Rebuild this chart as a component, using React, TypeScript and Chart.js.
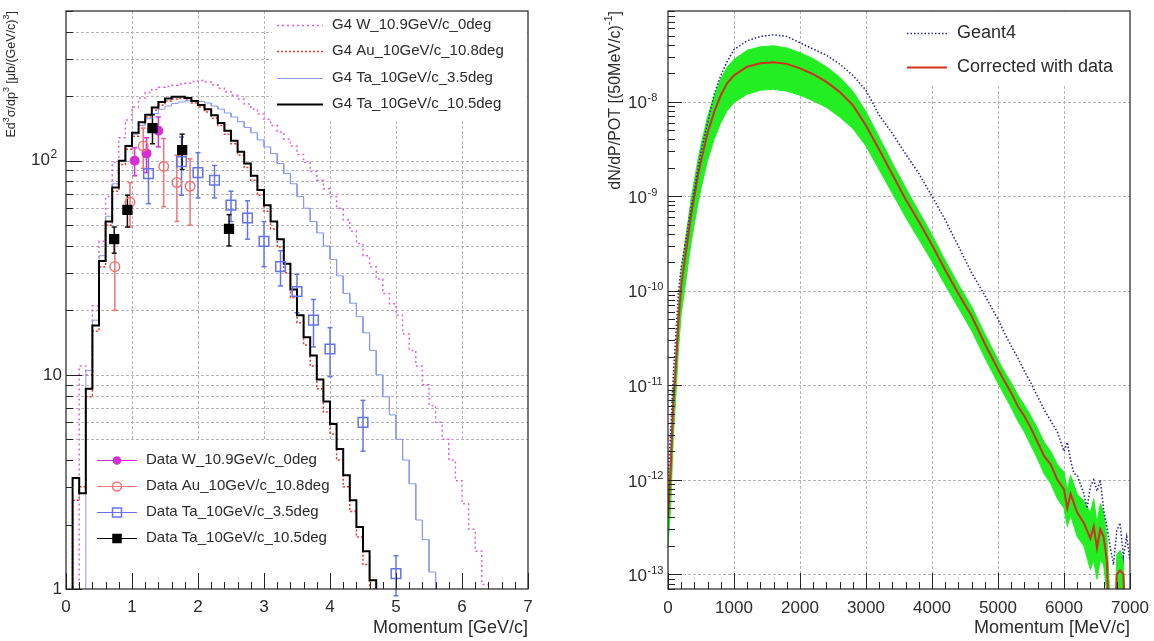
import React, { useEffect, useRef } from "react";
import { Chart, registerables } from "chart.js";
Chart.register(...registerables);

const FONT = '"Liberation Sans", Arial, Helvetica, sans-serif';
const TEXT = "#2b2b2b";
const GRID = "#b5b5b5";

// ---------------- Left panel data (GeV/c) ----------------
const binEdges = [
  0, 0.1, 0.2, 0.3, 0.4, 0.5, 0.6, 0.7, 0.8, 0.9, 1, 1.1, 1.2, 1.3, 1.4, 1.5, 1.6, 1.7, 1.8, 1.9,
  2, 2.1, 2.2, 2.3, 2.4, 2.5, 2.6, 2.7, 2.8, 2.9, 3, 3.1, 3.2, 3.3, 3.4, 3.5, 3.6, 3.7, 3.8, 3.9,
  4, 4.1, 4.2, 4.3, 4.4, 4.5, 4.6, 4.7, 4.8, 4.9, 5, 5.1, 5.2, 5.3, 5.4, 5.5, 5.6, 5.7, 5.8, 5.9,
  6, 6.1, 6.2, 6.3, 6.4, 6.5, 6.6, 6.7, 6.8, 6.9, 7,
];
const Z = 0.01; // empty bin (below axis)
const g4W = [
  Z, Z, 11, 10, 21, 42, 68, 98, 128, 155,
  178, 196, 208, 215, 220, 222, 225, 228, 230, 234,
  237, 233, 226, 218, 210, 202, 194, 184, 174, 165,
  156, 146, 136, 126, 117, 107, 98, 89, 81, 74,
  68, 60, 53, 47, 41, 36, 32, 28, 24, 21.5,
  19, 15.5, 13, 11, 9, 7.2, 6, 5, 4, 3.2,
  2.5, 1.9, 1.5, 1.05, Z, Z, Z, Z, Z, Z,
];
const g4Au = [
  Z, 2.6, 3.0, 7.9, 16, 32, 50, 72, 96, 113,
  130, 146, 160, 172, 182, 190, 194, 195, 192, 186,
  178, 169, 158, 146, 133, 120, 106, 93, 81, 69,
  58, 48, 39.5, 30, 23, 17.5, 13.8, 11, 8.6, 6.7,
  5.3, 4.0, 3.0, 2.3, 1.75, 1.3, 1.0, Z, Z, Z,
  Z, Z, Z, Z, Z, Z, Z, Z, Z, Z,
  Z, Z, Z, Z, Z, Z, Z, Z, Z, Z,
];
const g4Ta35 = [
  Z, Z, Z, 10.5, 18, 36, 55, 78, 100, 118,
  133, 146, 157, 166, 174, 180, 185, 188, 190, 190,
  189, 186, 180, 174, 167, 160, 152, 143, 135, 125,
  116, 108, 97, 87, 78, 68, 60, 52, 46, 40,
  34.6, 29, 24, 21.6, 18.7, 15.7, 13, 10, 7.9, 6.5,
  5.0, 4.0, 3.1, 2.1, 1.7, 1.2, Z, Z, Z, Z,
  Z, Z, Z, Z, Z, Z, Z, Z, Z, Z,
];
const g4Ta105 = [
  Z, 3.3, 2.8, 8.6, 17, 34, 52, 75, 100, 117,
  135, 151, 164, 177, 188, 195, 199, 199, 196, 190,
  182, 174, 163, 150, 138, 124, 110, 97, 85, 73,
  62, 52, 43, 33, 25, 19, 15, 12.3, 9.5, 7.5,
  5.9, 4.5, 3.4, 2.6, 1.95, 1.5, 1.1, Z, Z, Z,
  Z, Z, Z, Z, Z, Z, Z, Z, Z, Z,
  Z, Z, Z, Z, Z, Z, Z, Z, Z, Z,
];

const dataWX = [1.04, 1.22, 1.4];
const dataWY = [100, 108, 138];
const dataWErr = [15, 20, 22];

const dataAuX = [0.74, 0.97, 1.17, 1.48, 1.68, 1.88];
const dataAuY = [32, 64, 117, 94, 79, 76];
const dataAuErr = [12, 15, 25, 33, 27, 26];

const dataTa35X = [1.25, 1.75, 2.0, 2.25, 2.5, 2.75, 3.0, 3.25, 3.5, 3.75, 4.0, 4.5, 5.0];
const dataTa35Y = [87, 99, 88, 81, 62, 54, 42, 32, 24.5, 18, 13.2, 6.0, 1.18];
const dataTa35Err = [24, 30, 21, 14, 10, 11, 10, 6, 5, 4.5, 3.4, 1.6, 0.25];

const dataTa105X = [0.73, 0.93, 1.31, 1.76, 2.47];
const dataTa105Y = [43, 59, 142, 112, 48];
const dataTa105Err = [6, 10, 22, 21, 8];

const leftXTicks = [0, 1, 2, 3, 4, 5, 6, 7];
const leftGridX = [1, 2, 3, 4, 5, 6];
const leftGridY = [5, 6, 7, 8, 9, 10, 20, 30, 40, 50, 60, 70, 80, 90, 100, 200, 300, 400];

const leftLegendTop = [
  "G4 W_10.9GeV/c_0deg",
  "G4 Au_10GeV/c_10.8deg",
  "G4 Ta_10GeV/c_3.5deg",
  "G4 Ta_10GeV/c_10.5deg",
];
const leftLegendBottom = [
  "Data W_10.9GeV/c_0deg",
  "Data Au_10GeV/c_10.8deg",
  "Data Ta_10GeV/c_3.5deg",
  "Data Ta_10GeV/c_10.5deg",
];

// ---------------- Right panel data (MeV/c) ----------------
const rightP = [
  0, 40, 80, 120, 160, 200, 250, 300, 350, 400, 450, 500, 600, 700, 800, 900, 1000,
  1200, 1400, 1600, 1800, 2000, 2200, 2400, 2600, 2800, 3000, 3200, 3400, 3600, 3800, 4000,
  4200, 4400, 4600, 4800, 5000, 5100, 5200, 5300, 5400, 5500, 5600, 5700, 5800, 5900,
  6000, 6050, 6100, 6200, 6300, 6400, 6450, 6500, 6550, 6600, 6650, 6700, 6750, 6800, 6850, 6900, 6950, 7000,
];
const corrected = [
  4.0e-13, 1.26e-12, 6.3e-12, 1.6e-11, 5.0e-11, 1.12e-10, 2.0e-10, 3.5e-10, 6.3e-10, 1.0e-9, 1.6e-9, 2.35e-9, 4.7e-9, 7.8e-9, 1.17e-8, 1.58e-8, 1.9e-8,
  2.34e-8, 2.55e-8, 2.61e-8, 2.51e-8, 2.25e-8, 1.95e-8, 1.62e-8, 1.27e-8, 9.2e-9, 5.6e-9, 3.1e-9, 1.7e-9, 9.3e-10, 5.4e-10, 3.05e-10,
  1.66e-10, 9.3e-11, 5.4e-11, 2.75e-11, 1.48e-11, 1.1e-11, 8.3e-12, 6.0e-12, 4.7e-12, 3.5e-12, 2.5e-12, 1.78e-12, 1.45e-12, 1.0e-12,
  7.9e-13, 5.0e-13, 7.1e-13, 4.5e-13, 3.5e-13, 2.4e-13, 3.2e-13, 1.9e-13, 3.0e-13, 2.5e-13, 1.4e-13, 1e-14, 1e-14, 1.0e-13, 1.1e-13, 1.0e-13, 1e-14, 1e-14,
];
const bandUpper = [
  6.3e-13, 1.8e-12, 8.9e-12, 2.2e-11, 7.1e-11, 1.6e-10, 2.9e-10, 5.2e-10, 9.3e-10, 1.48e-9, 2.35e-9, 3.5e-9, 6.9e-9, 1.15e-8, 1.74e-8, 2.34e-8, 2.8e-8,
  3.5e-8, 3.8e-8, 3.9e-8, 3.7e-8, 3.3e-8, 2.85e-8, 2.34e-8, 1.82e-8, 1.29e-8, 7.8e-9, 4.2e-9, 2.24e-9, 1.23e-9, 6.9e-10, 3.9e-10,
  2.1e-10, 1.17e-10, 6.8e-11, 3.5e-11, 1.86e-11, 1.38e-11, 1.07e-11, 7.9e-12, 6.2e-12, 4.7e-12, 3.5e-12, 2.5e-12, 2.0e-12, 1.45e-12,
  1.2e-12, 7.9e-13, 1.12e-12, 7.1e-13, 6.0e-13, 4.5e-13, 6.3e-13, 3.5e-13, 5.6e-13, 4.5e-13, 2.5e-13, 5e-14, 1e-14, 1.6e-13, 1.8e-13, 1.4e-13, 1e-14, 1e-14,
];
const bandLower = [
  2.0e-13, 5.0e-13, 2.8e-12, 7.9e-12, 2.5e-11, 5.6e-11, 1.0e-10, 1.8e-10, 3.2e-10, 5.1e-10, 8.1e-10, 1.2e-9, 2.4e-9, 4.0e-9, 6.0e-9, 8.1e-9, 9.8e-9,
  1.2e-8, 1.32e-8, 1.35e-8, 1.29e-8, 1.17e-8, 1.02e-8, 8.7e-9, 6.9e-9, 5.2e-9, 3.4e-9, 1.9e-9, 1.07e-9, 6.0e-10, 3.5e-10, 2.04e-10,
  1.15e-10, 6.6e-11, 3.8e-11, 1.95e-11, 1.05e-11, 7.8e-12, 5.8e-12, 4.2e-12, 3.2e-12, 2.3e-12, 1.66e-12, 1.15e-12, 9.1e-13, 6.3e-13,
  5.0e-13, 3.2e-13, 4.2e-13, 2.5e-13, 2.0e-13, 1.12e-13, 1.4e-13, 8.9e-14, 1.4e-13, 1.26e-13, 6.3e-14, 1e-14, 1e-14, 6.3e-14, 6.3e-14, 6.3e-14, 1e-14, 1e-14,
];
const geantP = [
  0, 40, 80, 120, 160, 200, 250, 300, 350, 400, 450, 500, 600, 700, 800, 900, 1000,
  1200, 1400, 1600, 1800, 2000, 2200, 2400, 2600, 2800, 3000, 3200, 3400, 3600, 3800, 4000,
  4200, 4400, 4600, 4800, 5000, 5100, 5200, 5300, 5400, 5500, 5600, 5700, 5800, 5900,
  6000, 6050, 6100, 6150, 6200, 6250, 6300, 6350, 6400, 6450, 6500, 6550, 6600, 6650, 6700, 6750, 6800, 6850, 6900, 6950, 7000,
];
const geant4 = [
  1.0e-12, 3.2e-12, 1.26e-11, 3.5e-11, 1.0e-10, 1.78e-10, 2.8e-10, 4.7e-10, 7.6e-10, 1.17e-9, 1.9e-9, 2.95e-9, 6.0e-9, 1.2e-8, 1.9e-8, 2.7e-8, 3.55e-8,
  4.4e-8, 4.9e-8, 5.1e-8, 4.9e-8, 4.2e-8, 3.6e-8, 3.1e-8, 2.5e-8, 1.9e-8, 1.32e-8, 7.2e-9, 4.6e-9, 2.8e-9, 1.74e-9, 1.0e-9,
  5.6e-10, 2.95e-10, 1.55e-10, 8.9e-11, 5.0e-11, 3.55e-11, 2.6e-11, 1.95e-11, 1.41e-11, 1.05e-11, 7.6e-12, 5.5e-12, 4.2e-12, 3.2e-12,
  2.0e-12, 2.5e-12, 1.6e-12, 1.17e-12, 1.12e-12, 8.9e-13, 7.2e-13, 5.0e-13, 8.5e-13, 1.0e-12, 7.6e-13, 1.0e-12, 4.8e-13, 3.2e-13, 1.95e-13, 1.26e-13, 2.9e-13, 3.5e-13, 1.55e-13, 2.5e-13, 1.4e-13,
];
const rightXTicks = [0, 1000, 2000, 3000, 4000, 5000, 6000, 7000];
const rightGridX = [1000, 2000, 3000, 4000, 5000, 6000];
const rightDecades = [-8, -9, -10, -11, -12, -13];
const rightLegend = ["Geant4", "Corrected with data"];

// ---------------- colours ----------------
const COL_W = "#d62fd6";
const COL_AU = "#f07474";
const COL_TA35 = "#6474e4";
const COL_G4W = "#e25ce2";
const COL_G4AU = "#e5382e";
const COL_G4TA35 = "#8898f2";
const COL_GREEN = "#22ee22";
const COL_RED = "#d0301f";
const COL_NAVY = "#2a2a90";

// ---------------- helpers ----------------
function histPoints(edges: number[], vals: number[]) {
  const pts: { x: number; y: number }[] = [];
  for (let i = 0; i < vals.length; i++) {
    pts.push({ x: edges[i], y: vals[i] });
    pts.push({ x: edges[i + 1], y: vals[i] });
  }
  return pts;
}
function xyPoints(xs: number[], ys: number[]) {
  return xs.map((x, i) => ({ x, y: ys[i] }));
}
function seg(ctx: CanvasRenderingContext2D, x1: number, y1: number, x2: number, y2: number) {
  ctx.beginPath();
  ctx.moveTo(x1, y1);
  ctx.lineTo(x2, y2);
  ctx.stroke();
}
type Seg = { t: string; sup?: boolean };
function drawRich(
  ctx: CanvasRenderingContext2D, segs: Seg[], x: number, y: number, size: number,
  align: "left" | "right", rotate: boolean
) {
  ctx.save();
  ctx.translate(x, y);
  if (rotate) ctx.rotate(-Math.PI / 2);
  const fb = `${size}px ${FONT}`;
  const fs = `${Math.round(size * 0.68)}px ${FONT}`;
  let total = 0;
  for (const s of segs) {
    ctx.font = s.sup ? fs : fb;
    total += ctx.measureText(s.t).width;
  }
  let cx = align === "right" ? -total : 0;
  ctx.textAlign = "left";
  ctx.textBaseline = "middle";
  ctx.fillStyle = TEXT;
  for (const s of segs) {
    ctx.font = s.sup ? fs : fb;
    ctx.fillText(s.t, cx, s.sup ? -size * 0.42 : 0);
    cx += ctx.measureText(s.t).width;
  }
  ctx.restore();
}
function text(ctx: CanvasRenderingContext2D, t: string, x: number, y: number, size: number, align: CanvasTextAlign) {
  ctx.font = `${size}px ${FONT}`;
  ctx.fillStyle = TEXT;
  ctx.textAlign = align;
  ctx.textBaseline = "middle";
  ctx.fillText(t, x, y);
}
function marker(ctx: CanvasRenderingContext2D, kind: string, x: number, y: number, r: number, color: string, filled: boolean) {
  ctx.beginPath();
  if (kind === "circle") ctx.arc(x, y, r, 0, Math.PI * 2);
  else ctx.rect(x - r, y - r, 2 * r, 2 * r);
  ctx.strokeStyle = color;
  ctx.lineWidth = 1.5;
  if (filled) {
    ctx.fillStyle = color;
    ctx.fill();
  }
  ctx.stroke();
}

const errSeries = [
  { x: dataWX, y: dataWY, e: dataWErr, c: COL_W },
  { x: dataAuX, y: dataAuY, e: dataAuErr, c: COL_AU },
  { x: dataTa35X, y: dataTa35Y, e: dataTa35Err, c: COL_TA35 },
  { x: dataTa105X, y: dataTa105Y, e: dataTa105Err, c: "#111" },
];

// ---------------- left panel plugin ----------------
const leftDeco = {
  id: "leftDeco",
  beforeDatasetsDraw(chart: any) {
    const { ctx, chartArea: a, scales } = chart;
    const xs = scales.x, ys = scales.y;
    ctx.save();
    ctx.strokeStyle = GRID;
    ctx.lineWidth = 1;
    ctx.setLineDash([3, 2]);
    const yStop = ys.getPixelForValue(5);
    for (const v of leftGridX) {
      const px = Math.round(xs.getPixelForValue(v)) + 0.5;
      seg(ctx, px, a.top, px, yStop);
    }
    for (const v of leftGridY) {
      const py = Math.round(ys.getPixelForValue(v)) + 0.5;
      seg(ctx, a.left, py, a.right, py);
    }
    ctx.setLineDash([]);
    // legend box (white, hides grid)
    ctx.fillStyle = "#fff";
    ctx.fillRect(272, a.top + 1, a.right - 273, 118 - a.top);
    // error bars
    for (const s of errSeries) {
      ctx.strokeStyle = s.c;
      ctx.lineWidth = 1.5;
      for (let i = 0; i < s.x.length; i++) {
        const px = xs.getPixelForValue(s.x[i]);
        const pt = ys.getPixelForValue(s.y[i] + s.e[i]);
        const pb = ys.getPixelForValue(Math.max(s.y[i] - s.e[i], 0.5));
        seg(ctx, px, pt, px, pb);
        seg(ctx, px - 2.5, pt, px + 2.5, pt);
        seg(ctx, px - 2.5, pb, px + 2.5, pb);
      }
    }
    ctx.restore();
  },
  afterDraw(chart: any) {
    const { ctx, chartArea: a, scales } = chart;
    const xs = scales.x, ys = scales.y;
    ctx.save();
    // frame
    ctx.strokeStyle = "#222";
    ctx.lineWidth = 1.2;
    ctx.strokeRect(a.left, a.top, a.right - a.left, a.bottom - a.top);
    // x ticks
    ctx.lineWidth = 1;
    for (let k = 0; k <= 35; k++) {
      const px = Math.round(xs.getPixelForValue(k * 0.2)) + 0.5;
      const len = k % 5 === 0 ? 16 : 7;
      seg(ctx, px, a.bottom, px, a.bottom - len);
    }
    // y ticks
    for (let d = 0; d <= 2; d++) {
      for (let m = 1; m <= 9; m++) {
        const v = m * Math.pow(10, d);
        if (v > 500) continue;
        const py = Math.round(ys.getPixelForValue(v)) + 0.5;
        seg(ctx, a.left, py, a.left + (m === 1 ? 16 : 7), py);
      }
    }
    // tick labels
    for (const v of leftXTicks) text(ctx, String(v), xs.getPixelForValue(v), 607, 17, "center");
    text(ctx, "1", 62, ys.getPixelForValue(1), 17, "right");
    text(ctx, "10", 62, ys.getPixelForValue(10), 17, "right");
    drawRich(ctx, [{ t: "10" }], 50, ys.getPixelForValue(100), 17, "right", false);
    drawRich(ctx, [{ t: "2", sup: true }], 50.5, ys.getPixelForValue(100) + 1, 17, "left", false);
    // titles
    text(ctx, "Momentum [GeV/c]", a.right, 628, 18, "right");
    drawRich(
      ctx,
      [{ t: "Ed" }, { t: "3", sup: true }, { t: "σ/dp" }, { t: "3", sup: true }, { t: " [μb/(GeV/c)" }, { t: "3", sup: true }, { t: "]" }],
      12, 11, 12.5, "right", true
    );
    // top legend
    const rowsT = [25, 51, 78, 104];
    const styles = [
      { c: COL_G4W, w: 1.5, d: [2, 3] },
      { c: COL_G4AU, w: 1.5, d: [2, 2] },
      { c: COL_G4TA35, w: 1, d: [] as number[] },
      { c: "#000", w: 2, d: [] as number[] },
    ];
    rowsT.forEach((y, i) => {
      ctx.strokeStyle = styles[i].c;
      ctx.lineWidth = styles[i].w;
      ctx.setLineDash(styles[i].d);
      seg(ctx, 277, y + 0.5, 323, y + 0.5);
      ctx.setLineDash([]);
      text(ctx, leftLegendTop[i], 332, y, 15, "left");
    });
    // bottom legend
    const rowsB = [460, 486, 512, 538];
    const mk = [
      { k: "circle", r: 3.5, c: COL_W, f: true },
      { k: "circle", r: 4.5, c: COL_AU, f: false },
      { k: "rect", r: 4.5, c: COL_TA35, f: false },
      { k: "rect", r: 4, c: "#000", f: true },
    ];
    rowsB.forEach((y, i) => {
      ctx.strokeStyle = mk[i].c;
      ctx.lineWidth = 1.2;
      seg(ctx, 97, y + 0.5, 137, y + 0.5);
      marker(ctx, mk[i].k, 117, y + 0.5, mk[i].r, mk[i].c, mk[i].f);
      text(ctx, leftLegendBottom[i], 146, y, 15, "left");
    });
    ctx.restore();
  },
};

// ---------------- right panel plugin ----------------
const rightDeco = {
  id: "rightDeco",
  beforeDatasetsDraw(chart: any) {
    const { ctx, chartArea: a, scales } = chart;
    const xs = scales.x, ys = scales.y;
    ctx.save();
    ctx.strokeStyle = GRID;
    ctx.lineWidth = 1;
    ctx.setLineDash([3, 2]);
    for (const v of rightGridX) {
      const px = Math.round(xs.getPixelForValue(v)) + 0.5;
      seg(ctx, px, a.top, px, a.bottom);
    }
    for (const e of rightDecades) {
      const py = Math.round(ys.getPixelForValue(Math.pow(10, e))) + 0.5;
      seg(ctx, a.left, py, a.right, py);
    }
    ctx.setLineDash([]);
    ctx.fillStyle = "#fff";
    ctx.fillRect(323, a.top + 1, a.right - 324, 83 - a.top);
    ctx.restore();
  },
  afterDraw(chart: any) {
    const { ctx, chartArea: a, scales } = chart;
    const xs = scales.x, ys = scales.y;
    ctx.save();
    ctx.strokeStyle = "#222";
    ctx.lineWidth = 1.2;
    ctx.strokeRect(a.left, a.top, a.right - a.left, a.bottom - a.top);
    ctx.lineWidth = 1;
    for (let k = 0; k <= 35; k++) {
      const px = Math.round(xs.getPixelForValue(k * 200)) + 0.5;
      seg(ctx, px, a.bottom, px, a.bottom - (k % 5 === 0 ? 16 : 7));
    }
    for (let e = -14; e <= -8; e++) {
      for (let m = 1; m <= 9; m++) {
        const v = m * Math.pow(10, e);
        if (v < 7e-14 || v > 9.1e-8) continue;
        const py = Math.round(ys.getPixelForValue(v)) + 0.5;
        seg(ctx, a.left, py, a.left + (m === 1 ? 14 : 7), py);
      }
    }
    for (const v of rightXTicks) text(ctx, String(v), xs.getPixelForValue(v), 608, 17, "center");
    for (const e of rightDecades) {
      const py = ys.getPixelForValue(Math.pow(10, e)) + 2;
      drawRich(ctx, [{ t: "10" }], 70, py, 17, "right", false);
      drawRich(ctx, [{ t: String(e), sup: true }], 70.5, py + 1, 16, "left", false);
    }
    text(ctx, "Momentum [MeV/c]", a.right, 628, 18, "right");
    drawRich(ctx, [{ t: "dN/dP/POT [(50MeV/c)" }, { t: "-1", sup: true }, { t: "]" }], 39, 11, 16, "right", true);
    // legend
    ctx.strokeStyle = COL_NAVY;
    ctx.lineWidth = 1.5;
    ctx.setLineDash([1.5, 2]);
    seg(ctx, 330, 33.5, 370, 33.5);
    ctx.setLineDash([]);
    ctx.strokeStyle = COL_RED;
    ctx.lineWidth = 2;
    seg(ctx, 330, 67.5, 370, 67.5);
    text(ctx, rightLegend[0], 380, 33, 18, "left");
    text(ctx, rightLegend[1], 380, 67, 18, "left");
    ctx.restore();
  },
};

function scatterDs(xs: number[], ys: number[], style: string, r: number, c: string, fill: string) {
  return {
    data: xyPoints(xs, ys),
    showLine: false,
    pointStyle: style,
    pointRadius: r,
    pointBorderColor: c,
    pointBackgroundColor: fill,
    pointBorderWidth: 1.5,
    borderColor: c,
    backgroundColor: fill,
  };
}
function histDs(vals: number[], c: string, w: number, dash: number[]) {
  return {
    data: histPoints(binEdges, vals),
    borderColor: c,
    borderWidth: w,
    borderDash: dash,
    pointRadius: 0,
    tension: 0,
    fill: false,
  };
}

function leftConfig(): any {
  return {
    type: "line",
    data: {
      datasets: [
        scatterDs(dataTa105X, dataTa105Y, "rect", 6.2, "#000", "#000"),
        scatterDs(dataTa35X, dataTa35Y, "rect", 6.8, COL_TA35, "rgba(0,0,0,0)"),
        scatterDs(dataAuX, dataAuY, "circle", 4.8, COL_AU, "rgba(0,0,0,0)"),
        scatterDs(dataWX, dataWY, "circle", 4.3, COL_W, COL_W),
        histDs(g4Ta105, "#000", 2, []),
        histDs(g4Ta35, COL_G4TA35, 1, []),
        histDs(g4Au, COL_G4AU, 1.5, [2, 2]),
        histDs(g4W, COL_G4W, 1.5, [2, 3]),
      ],
    },
    options: {
      animation: false,
      responsive: false,
      devicePixelRatio: 1,
      events: [],
      layout: { padding: { left: 66, right: 49, top: 11, bottom: 52 } },
      scales: {
        x: { type: "linear", min: 0, max: 7, display: false },
        y: { type: "logarithmic", min: 1, max: 500, display: false },
      },
      plugins: { legend: { display: false }, tooltip: { enabled: false } },
    },
    plugins: [leftDeco],
  };
}

function rightConfig(): any {
  return {
    type: "line",
    data: {
      datasets: [
        {
          data: xyPoints(geantP, geant4),
          borderColor: COL_NAVY,
          borderWidth: 1.6,
          borderDash: [1.5, 2],
          pointRadius: 0,
          tension: 0,
          fill: false,
        },
        {
          data: xyPoints(rightP, corrected),
          borderColor: COL_RED,
          borderWidth: 2,
          pointRadius: 0,
          tension: 0,
          fill: false,
        },
        {
          data: xyPoints(rightP, bandUpper),
          borderColor: COL_GREEN,
          borderWidth: 1,
          pointRadius: 0,
          tension: 0,
          fill: false,
        },
        {
          data: xyPoints(rightP, bandLower),
          borderColor: COL_GREEN,
          backgroundColor: COL_GREEN,
          borderWidth: 1,
          pointRadius: 0,
          tension: 0,
          fill: "-1",
        },
      ],
    },
    options: {
      animation: false,
      responsive: false,
      devicePixelRatio: 1,
      events: [],
      layout: { padding: { left: 91, right: 24, top: 11, bottom: 52 } },
      scales: {
        x: { type: "linear", min: 0, max: 7000, display: false },
        y: { type: "logarithmic", min: 7e-14, max: 9.1e-8, display: false },
      },
      plugins: { legend: { display: false }, tooltip: { enabled: false }, filler: { propagate: false } },
    },
    plugins: [rightDeco],
  };
}

export default function App() {
  const leftRef = useRef<HTMLCanvasElement>(null);
  const rightRef = useRef<HTMLCanvasElement>(null);
  useEffect(() => {
    const l = new Chart(leftRef.current as HTMLCanvasElement, leftConfig());
    const r = new Chart(rightRef.current as HTMLCanvasElement, rightConfig());
    return () => {
      l.destroy();
      r.destroy();
    };
  }, []);
  return (
    <div style={{ position: "fixed", left: 0, top: 0, width: 1154, height: 641, background: "#fff" }}>
      <canvas ref={leftRef} width={577} height={641} style={{ position: "absolute", left: 0, top: 0, width: 577, height: 641 }} />
      <canvas ref={rightRef} width={577} height={641} style={{ position: "absolute", left: 577, top: 0, width: 577, height: 641 }} />
    </div>
  );
}
